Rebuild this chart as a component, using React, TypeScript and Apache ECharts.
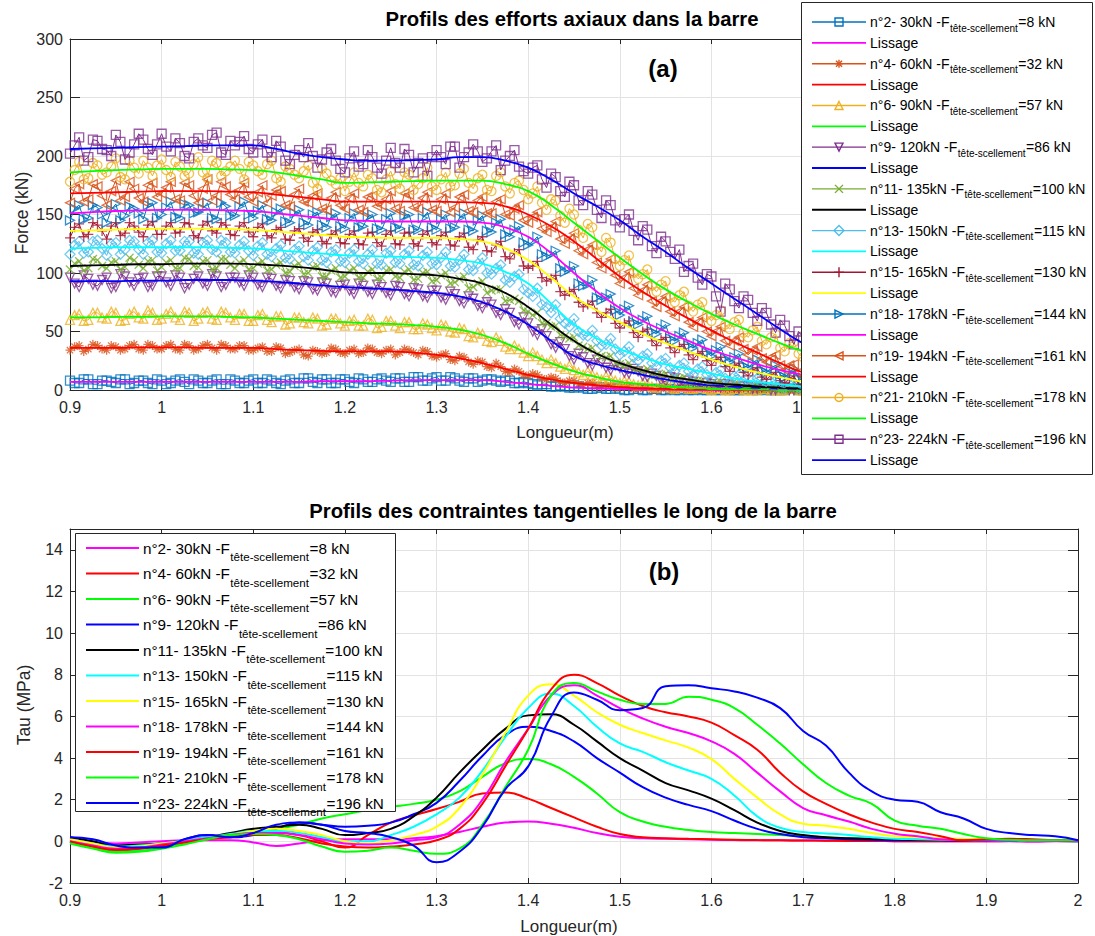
import React, { useEffect, useRef } from 'react';
import * as echarts from 'echarts';

const FONT = "'Liberation Sans', Arial, Helvetica, sans-serif";
const AX = '#262626';
const GRIDC = '#e3e3e3';

// abscissa grids (m)
const xRaw: number[] = Array.from({ length: 111 }, (_, i) => +(0.9 + i * 0.01).toFixed(2));
const xHalf: number[] = Array.from({ length: 110 }, (_, i) => +(0.905 + i * 0.01).toFixed(3));
const xSmooth: number[] = Array.from({ length: 45 }, (_, i) => +(0.9 + i * 0.025).toFixed(3));

// legend texts
const testLabels = ['n°2- 30kN -F', 'n°4- 60kN -F', 'n°6- 90kN -F', 'n°9- 120kN -F', 'n°11- 135kN -F', 'n°13- 150kN -F', 'n°15- 165kN -F', 'n°18- 178kN -F', 'n°19- 194kN -F', 'n°21- 210kN -F', 'n°23- 224kN -F'];
const headForces = ['=8 kN', '=32 kN', '=57 kN', '=86 kN', '=100 kN', '=115 kN', '=130 kN', '=144 kN', '=161 kN', '=178 kN', '=196 kN'];
const SUB = 'tête-scellement';

const dataColors = ['#0072BD', '#D95319', '#EDB120', '#7E2F8E', '#77AC30', '#4DBEEE', '#A2142F', '#0072BD', '#D95319', '#EDB120', '#7E2F8E'];
const lisColors = ['#FF00FF', '#FF0000', '#00FF00', '#0000FF', '#000000', '#00FFFF', '#FFFF00', '#FF00FF', '#FF0000', '#00FF00', '#0000FF'];
const markers = ['square', 'asterisk', 'triUp', 'triDown', 'cross', 'diamond', 'plus', 'triRight', 'triLeft', 'circle', 'square'];

// ---- Force raw data (kN), x = 0.90..2.00 step 0.01 ----
const raw2 = [8,6,9,5,8,6,9,6,8,5, 8,6,9,5,8,6,9,5,8,6, 9,6,8,5,9,6,10,6,9,6, 9,6,9,7,10,7,10,7,11,8, 11,8,10,7,10,8,9,7,8,6, 6,4,5,3,3,2,2,1,2,1, 1,0,1,0,1,0,0,1,0,0, 1,0,0,0,1,0,0,0,0,1, 0,0,0,0,1,0,0,0,0,1, 0,0,0,0,0,1,0,0,0,0, 1,0,0,0,0,0,1,0,0,0,0];
const raw4 = [34,38,35,38,34,37,35,39,34,38, 35,39,34,38,35,39,34,38,35,38, 34,37,33,36,32,35,29,33,32,35, 31,35,32,35,31,35,32,34,30,33, 28,31,25,28,22,24,19,20,15,16, 12,13,9,10,6,8,4,6,3,4, 2,3,1,2,0,2,0,1,0,1, 0,1,0,0,1,0,0,1,0,0, 0,1,0,0,1,0,0,0,1,0, 0,0,0,1,0,0,0,1,0,0, 0,0,1,0,0,0,1,0,0,0,0];
const raw6 = [60,65,60,66,61,66,60,67,61,66, 61,67,60,66,61,67,60,66,60,65, 59,65,58,63,57,62,57,61,56,61, 55,60,55,60,54,59,53,58,52,56, 51,55,49,52,45,48,41,42,35,35, 29,29,23,23,18,17,13,13,9,10, 6,7,4,5,2,4,1,3,1,2, 0,1,0,1,0,0,1,0,0,1, 0,0,0,1,0,0,1,0,0,0, 1,0,0,0,1,0,0,0,1,0, 0,1,0,0,0,1,0,0,0,1,0];
const raw9 = [96,88,95,89,96,88,97,89,96,89, 97,89,96,90,97,89,97,90,96,89, 96,88,95,87,93,86,92,85,91,83, 90,82,89,82,88,81,88,80,86,79, 85,77,82,74,78,70,73,64,66,56, 57,47,46,36,35,26,28,21,23,17, 19,14,16,11,12,7,10,5,7,3, 5,2,4,1,3,1,2,0,2,0, 1,0,1,0,0,1,0,0,1,0, 0,0,1,0,0,1,0,0,0,1, 0,0,0,1,0,0,0,0,1,0,0];
const raw11 = [103,110,104,111,104,110,105,111,104,111, 105,111,104,112,105,111,104,112,104,111, 104,110,103,109,101,108,100,106,97,104, 97,104,96,103,96,103,96,103,95,101, 94,100,92,97,88,93,85,86,77,76, 67,66,57,55,46,45,37,36,29,29, 22,23,17,18,13,14,10,11,7,8, 5,7,4,5,2,4,1,3,0,2, 0,1,0,1,0,0,1,0,0,1, 0,0,1,0,0,0,1,0,0,0, 1,0,0,0,1,0,0,0,1,0,0];
const raw13 = [116,127,118,128,115,126,120,127,116,128, 117,128,119,127,116,128,118,126,117,127, 115,126,114,124,112,123,111,122,109,120, 109,120,108,120,107,119,108,119,106,118, 107,118,105,116,102,113,99,107,92,99, 83,87,71,73,57,61,47,51,38,44, 30,37,25,31,20,27,16,23,13,20, 10,17,7,13,5,10,3,8,2,6, 1,4,0,3,0,2,0,1,0,1, 0,0,1,0,0,1,0,0,1,0, 0,1,0,0,0,1,0,0,0,1,0];
const raw15 = [130,142,133,141,129,143,134,140,131,144, 133,143,135,142,130,144,134,141,132,143, 131,142,130,139,128,138,127,137,125,136, 125,136,124,135,123,136,124,135,123,136, 124,135,123,134,120,131,118,127,112,120, 104,110,93,98,81,86,71,76,62,69, 53,59,45,52,38,45,32,39,26,33, 21,28,16,23,12,19,9,15,6,12, 4,9,2,7,1,5,0,4,0,3, 0,2,0,1,0,1,0,1,0,1, 0,1,0,1,0,0,1,0,0,1,0];
const raw18 = [145,158,147,156,143,159,149,155,146,160, 150,161,147,158,152,160,146,157,149,161, 147,158,145,155,143,154,141,152,139,151, 138,151,140,150,137,151,138,150,137,152, 137,150,139,151,136,149,135,146,131,140, 124,131,114,119,101,106,89,94,77,82, 64,72,56,63,48,56,42,49,36,43, 29,37,24,31,19,26,15,21,11,18, 8,15,5,12,3,10,2,8,1,6, 0,4,0,3,0,2,0,1,0,1, 0,1,0,1,0,1,0,0,0,1,0];
const raw19 = [160,176,163,174,158,179,165,172,161,177, 168,178,162,175,160,180,166,174,163,177, 161,175,166,170,157,172,160,168,154,169, 155,168,152,166,158,170,153,167,155,169, 153,168,156,167,152,165,151,163,149,158, 143,152,135,144,125,134,116,124,104,112, 91,101,81,90,71,80,63,71,54,62, 46,54,38,45,30,37,24,30,17,22, 11,17,8,14,5,11,4,9,2,7, 1,6,0,5,0,4,0,3,0,2, 0,2,0,1,0,1,0,1,0,1,0];
const raw21 = [178,195,181,192,186,198,180,190,196,183, 197,182,191,185,199,181,194,187,196,180, 192,184,196,178,189,181,192,172,185,176, 170,186,174,181,169,187,172,184,176,190, 171,186,175,189,172,184,170,186,168,179, 163,174,154,162,143,150,130,139,118,126, 106,115,95,103,84,93,75,84,67,75, 59,68,52,60,45,54,39,48,33,41, 28,36,23,31,19,27,15,23,12,19, 10,16,8,13,6,11,4,9,3,8, 2,7,1,6,1,5,0,4,1,3,2];
const raw23 = [202,216,199,213,205,218,197,210,214,201, 219,204,211,198,215,207,220,201,209,217, 203,214,199,208,193,205,211,190,203,196, 186,204,193,199,185,207,190,201,194,183, 205,193,208,199,210,195,204,188,200,191, 185,192,173,182,165,175,158,167,147,158, 139,150,128,137,117,127,112,101,108,90, 97,67,86,70,77,59,66,49,55,39, 45,32,38,27,31,22,27,18,22,14, 18,11,15,9,13,7,11,5,9,4, 8,3,6,2,5,1,4,1,3,0,2];

// ---- Force raw data (kN), intermediate samples x = 0.905..1.995 step 0.01 ----
const half2 = [6,9,5,8,7,9,5,8,6,9, 5,8,7,9,6,8,5,9,6,8, 6,9,6,8,6,10,7,9,6,9, 7,10,7,9,8,10,7,11,8,10, 8,11,8,10,7,9,8,8,6,7, 5,5,3,4,2,3,1,2,1,2, 0,1,0,1,0,1,0,0,1,0, 0,1,0,0,0,1,0,0,1,0, 0,0,1,0,0,0,0,1,0,0, 1,0,0,0,0,0,1,0,0,0, 0,0,1,0,0,0,0,0,1,0];
const half4 = [37,33,39,35,38,34,38,35,39,35, 38,35,39,34,38,36,39,35,38,34, 36,33,37,31,34,30,34,31,36,32, 34,31,36,32,34,30,35,32,34,29, 30,26,29,24,25,20,23,16,18,13, 14,10,11,7,8,5,6,3,4,2, 3,1,2,0,1,0,1,0,1,0, 1,0,0,1,0,0,1,0,0,0, 1,0,0,0,1,0,0,0,0,1, 0,0,1,0,0,0,0,1,0,0, 0,1,0,0,0,0,1,0,0,0];
const half6 = [64,59,66,62,67,59,65,62,68,60, 65,62,67,59,66,61,67,62,65,59, 64,60,63,56,62,58,62,55,61,57, 59,55,61,53,59,55,58,52,57,53, 56,50,53,46,49,42,45,37,38,32, 32,26,26,20,21,15,16,11,12,8, 8,5,6,3,5,2,3,1,2,1, 1,0,1,0,0,1,0,0,1,0, 0,1,0,0,0,1,0,0,0,1, 0,0,1,0,0,0,1,0,0,0, 1,0,0,0,1,0,0,0,1,0];
const half9 = [91,98,90,94,87,99,92,95,88,97, 92,98,87,95,91,99,88,96,92,98, 90,96,89,94,88,93,86,92,84,89, 85,91,84,90,83,89,82,87,80,85, 79,84,76,80,72,75,66,69,58,62, 50,52,39,41,29,31,23,26,19,21, 15,18,12,14,8,11,6,8,4,6, 3,5,2,3,1,2,0,2,0,1, 0,1,0,1,0,0,1,0,0,1, 0,0,1,0,0,0,1,0,0,0, 1,0,0,0,1,0,0,0,0,1];
const half11 = [108,102,112,106,109,103,113,107,110,102, 109,104,113,106,110,103,112,107,109,103, 108,102,107,100,106,99,105,97,102,96, 102,96,101,95,102,97,101,94,100,93, 98,91,95,87,91,83,86,76,78,68, 64,57,54,47,44,38,35,30,28,23, 21,17,16,12,13,9,10,7,8,5, 6,3,5,2,3,1,2,0,2,0, 1,0,1,0,0,1,0,0,0,1, 0,0,0,1,0,0,0,1,0,0, 0,1,0,0,0,1,0,0,0,0];
const half13 = [124,117,127,121,125,116,128,120,126,118, 125,119,127,117,126,120,128,118,124,119, 123,116,121,113,120,114,119,111,118,110, 117,110,116,108,117,109,116,107,115,108, 113,106,111,103,108,100,104,94,97,86, 80,73,66,61,54,50,46,42,39,35, 33,28,29,23,25,19,21,16,18,13, 15,10,12,7,9,5,7,3,5,2, 3,1,2,0,1,0,1,0,0,1, 0,0,1,0,0,0,1,0,0,0, 0,0,1,0,0,0,0,1,0,0];
const half15 = [139,131,143,136,140,132,143,135,141,133, 140,134,143,132,141,136,143,133,140,135, 139,132,137,129,136,130,135,127,133,126, 133,125,134,126,133,125,134,125,133,126, 132,124,131,122,128,119,124,114,117,106, 106,96,95,84,84,75,73,66,66,57, 57,49,50,42,43,36,37,30,31,25, 26,20,21,15,17,11,13,8,10,5, 7,3,5,1,4,1,2,0,2,0, 1,0,1,0,1,0,0,1,0,0, 1,0,0,0,1,0,0,0,0,1];
const half18 = [155,146,158,150,154,145,157,151,158,147, 156,148,159,151,155,147,160,149,157,150, 153,146,152,144,151,143,150,141,148,140, 147,139,148,138,146,139,149,137,147,139, 146,138,147,137,145,136,143,133,137,126, 127,116,116,104,103,91,90,79,79,68, 69,58,60,50,53,44,46,38,40,32, 34,27,28,21,23,17,19,13,15,10, 12,7,9,4,7,2,5,1,4,0, 2,0,2,0,1,0,1,0,0,1, 0,0,1,0,0,0,1,0,0,0];
const half19 = [172,161,176,166,170,162,178,164,175,165, 173,163,177,166,172,162,178,167,171,165, 169,160,171,158,167,161,166,155,164,158, 164,154,165,157,163,155,168,156,164,154, 163,152,165,153,162,151,161,150,155,145, 148,138,139,129,129,119,120,109,108,98, 96,87,85,76,76,67,67,58,58,50, 50,42,42,35,34,27,28,21,21,15, 14,9,11,6,8,4,7,3,5,1, 4,0,3,0,2,0,2,0,1,0, 1,0,1,0,1,0,0,1,0,0];
const half21 = [188,180,194,184,191,182,196,185,190,192, 188,195,183,193,186,196,183,191,189,195, 187,193,181,191,184,187,177,189,179,181, 178,177,184,171,180,176,186,171,181,174, 180,174,185,177,181,171,183,174,177,171, 168,160,163,149,155,137,142,124,130,112, 111,100,99,89,90,79,81,72,73,64, 64,56,58,49,51,42,45,36,40,31, 34,26,29,21,25,17,21,13,17,11, 14,9,12,7,10,5,8,3,7,2, 6,1,5,1,4,0,3,1,2,1];
const half23 = [209,196,214,206,200,212,203,219,206,210, 208,215,200,212,209,218,203,213,212,206, 210,203,213,196,201,199,200,197,206,189, 198,191,205,190,196,194,206,186,198,199, 199,208,190,203,204,198,209,196,205,187, 190,180,185,170,178,162,170,154,162,145, 146,136,140,123,131,118,120,106,96,99, 80,91,76,80,66,70,56,60,46,50, 38,41,33,34,26,29,22,24,18,20, 14,17,11,14,9,11,7,9,6,7, 5,6,3,5,2,4,1,3,2,1];

// ---- Smoothed force ("Lissage", kN), x = 0.900..2.000 step 0.025 ----
const lis2 = [7,7,7,7,7,7,7,7,7,7,7,7.5,7.5,7.5,8,8.5,8.5,8.5,8.5,7,5,3.5,2,1.5,1,0.5,0.5,0,0,0,0,0,0,0,0,0,0,0,0,0,0,0,0,0,0];
const lis4 = [36,36,36,36.5,36.5,36.5,36,36,36,35,34,33.5,33,33,33,32,30,27,23,18,13,9,6,4,2.5,1.5,1,0.5,0.5,0,0,0,0,0,0,0,0,0,0,0,0,0,0,0,0];
const lis6 = [62,62,62.5,62.5,63,63,63,62.5,62,61,60,59,58,57,56.5,55.5,54,51.5,47,40,31,23,16,11,7,5,3,2,1,0.5,0.5,0,0,0,0,0,0,0,0,0,0,0,0,0,0];
const lis9 = [93,93,93,93.5,93.5,94,94,94,93.5,92.5,91,89.5,88,87,86,84.5,83,80,75,67,56,42,29,22,17,13,9,6,4,3,2,1.5,1,0.5,0.5,0,0,0,0,0,0,0,0,0,0];
const lis11 = [106,106.5,107,107.5,107.5,108,108,108,107.5,106.5,105,103,100.5,100,100,99,98,95,91,83,71,56,42,31,23,17,12,9,6,4.5,3,2,1,0.5,0.5,0,0,0,0,0,0,0,0,0,0];
const lis13 = [121,121.5,122,122,122,122,122,121.5,121,119.5,118,116.5,115,114.5,114,113.5,113,111,108,101,91,74,56,44,35,28,22,18,14,10,7,5,3,2,1,0.5,0.5,0,0,0,0,0,0,0,0];
const lis15 = [136,136.5,137,137.5,138,138,138,137.5,137,135.5,134,132.5,131,130.5,130,130,130,129,127,121,111,96,80,68,58,48,40,33,26,20,15,11,7,5,3,2,1,0.5,0.5,0,0,0,0,0,0];
const lis18 = [151,152,153,153.5,154,154,154,153.5,153,151,149,147,145,144.5,144,144,144,144,143,139,131,117,100,84,70,59,50,42,34,28,22,17,13,10,7,5,3,2,1.5,1,0.5,0.5,0.5,0,0];
const lis19 = [168,168.5,169,169.5,170,170,170,169.5,169,167,165,163,161,161,161,161,161,160.5,160,157,150,140,127,112,97,84,72,61,51,41,32,23,15,11,8,6,4,3,2,1.5,1,1,0.5,0.5,0.5];
const lis21 = [186,187,188,188.5,189,189,189,188.5,188,186,183,180,177,177.5,178,178.5,179,179,179,176,170,158,143,128,113,99,86,75,65,56,48,40,33,27,22,17,13,10,8,6,5,4,3,2.5,2];
const lis23 = [206,206.5,207,207.5,208,208.5,209,209,209,206,202,199,197,196,196,196.5,197,199,199,196,190,180,168,157,145,131,118,104,91,78,65,52,40,32,25,20,15,12,9,7,5,4,3,2.5,2];

// ---- Shear stress Tau (MPa), x = 0.900..2.000 step 0.025 ----
const tau2 = [0,-0.05,-0.1,-0.05,0,0.05,0.05,0.05,-0.05,-0.22,-0.1,0.05,0.1,0.1,0.1,0.15,0.25,0.45,0.7,0.9,0.95,0.85,0.65,0.4,0.22,0.15,0.12,0.1,0.08,0.06,0.05,0.05,0.04,0.03,0.02,0.02,0.01,0,0,0,0,0,-0.02,0,0.02];
const tau4 = [0,-0.3,-0.45,-0.35,-0.2,0,0.15,0.3,0.42,0.45,0.3,0,-0.3,0.3,0.9,1.25,1.55,1.9,2.3,2.35,2.05,1.6,1.15,0.7,0.35,0.2,0.15,0.12,0.1,0.08,0.06,0.05,0.04,0.03,0.02,0.02,0.01,0,0,0,0,0.02,0.03,0.02,0.01];
const tau6 = [0,-0.3,-0.5,-0.45,-0.3,-0.1,0.1,0.3,0.5,0.6,0.8,1.1,1.3,1.5,1.65,1.8,2.0,2.4,3.1,3.75,3.95,3.7,3.1,2.3,1.4,0.95,0.7,0.55,0.45,0.4,0.35,0.3,0.25,0.2,0.15,0.12,0.1,0.08,0.06,0.05,0.04,0.03,0.02,0.02,0.01];
const tau9 = [0.1,-0.1,-0.25,-0.2,-0.25,0.1,0.3,0.2,0.3,0.6,0.9,0.8,0.7,0.75,0.9,1.3,1.85,2.9,4.1,5.1,5.5,5.3,4.8,4.0,3.3,2.6,2.1,1.75,1.45,1.0,0.6,0.35,0.2,0.15,0.1,0.08,0.05,0.05,0.05,0.04,0.03,0.02,0.02,0.02,0.01];
const tau11 = [0.2,0,-0.2,-0.15,-0.1,0.05,0.2,0.4,0.6,0.7,0.8,0.6,0.3,0.4,0.6,1.2,2.1,3.3,4.4,5.4,6.05,6.1,5.6,4.8,4.0,3.4,2.8,2.45,2.05,1.5,0.9,0.5,0.3,0.2,0.15,0.12,0.1,0.08,0.06,0.05,0.05,0.05,0.04,0.03,0.02];
const tau13 = [0.05,-0.1,-0.25,-0.2,-0.1,0.05,0.2,0.35,0.5,0.5,0.4,0.2,0,0,0.3,0.7,1.3,2.1,3.4,5.0,6.4,7.1,6.5,5.5,4.7,4.3,3.8,3.4,3.0,2.2,1.2,0.65,0.45,0.38,0.3,0.2,0.13,0.1,0.08,0.06,0.05,0.04,0.03,0.03,0.02];
const tau15 = [0.1,-0.1,-0.3,-0.25,-0.1,0,0.1,0.3,0.5,0.6,0.5,0.3,0,-0.1,0.05,0.3,0.7,1.6,3.2,5.2,7.0,7.55,7.0,6.2,5.6,5.2,4.85,4.5,3.95,3.0,2.1,1.3,0.85,0.75,0.6,0.4,0.25,0.2,0.15,0.12,0.1,0.08,0.05,0.05,0.05];
const tau18 = [0,-0.2,-0.35,-0.3,-0.15,0,0.15,0.3,0.4,0.4,0.3,0.1,-0.1,-0.15,-0.1,0.05,0.2,0.8,2.0,3.8,5.4,7.0,7.5,7.0,6.4,5.9,5.5,5.2,4.8,4.2,3.3,2.4,1.6,1.25,0.95,0.6,0.37,0.25,0.1,0.05,0.05,0.05,0.03,0.02,0.02];
const tau19 = [0,-0.25,-0.4,-0.35,-0.2,-0.05,0.1,0.2,0.3,0.3,0.15,-0.1,-0.25,-0.3,-0.25,-0.15,0.05,0.6,1.8,3.6,5.4,7.3,8.0,7.6,7.0,6.5,6.2,6.0,5.7,5.1,4.4,3.3,2.4,1.8,1.3,0.9,0.6,0.45,0.25,0.05,0.1,0.12,0.1,0.06,0.05];
const tau21 = [-0.1,-0.35,-0.55,-0.5,-0.35,-0.15,0.1,0.3,0.35,0.3,0.1,-0.25,-0.5,-0.45,-0.3,-0.45,-0.6,-0.35,0.8,2.6,4.4,7.0,7.6,7.2,6.8,6.6,6.6,6.95,6.8,6.4,5.6,4.7,3.7,2.8,2.2,1.8,1.0,0.75,0.6,0.35,0.15,0.08,0.05,0.05,0.05];
const tau23 = [0.2,0.1,-0.2,-0.3,-0.3,0.1,0.3,0.2,0.4,0.8,0.9,0.8,0.5,0.4,0.2,-0.2,-1.0,-0.5,0.7,2.5,3.6,6.0,7.15,6.8,6.3,6.4,7.45,7.5,7.35,7.2,6.9,6.4,5.3,4.6,3.3,2.4,2.0,1.9,1.4,1.1,0.6,0.4,0.3,0.25,0.05];

const rawAll = [raw2, raw4, raw6, raw9, raw11, raw13, raw15, raw18, raw19, raw21, raw23];
const halfAll = [half2, half4, half6, half9, half11, half13, half15, half18, half19, half21, half23];
const lisAll = [lis2, lis4, lis6, lis9, lis11, lis13, lis15, lis18, lis19, lis21, lis23];
const tauAll = [tau2, tau4, tau6, tau9, tau11, tau13, tau15, tau18, tau19, tau21, tau23];

const symbolOf: Record<string, string> = {
  square: 'rect',
  circle: 'circle',
  triUp: 'triangle',
  diamond: 'diamond',
  triDown: 'path://M0,0L10,0L5,10Z',
  triRight: 'path://M0,0L10,5L0,10Z',
  triLeft: 'path://M10,0L0,5L10,10Z',
  cross: 'path://M0,0L10,10M10,0L0,10',
  plus: 'path://M5,0L5,10M0,5L10,5',
  asterisk: 'path://M5,0L5,10M0,5L10,5M1.5,1.5L8.5,8.5M8.5,1.5L1.5,8.5',
};
const sizeOf: Record<string, number> = {
  square: 9, circle: 9, triUp: 9, diamond: 10, triDown: 9, triRight: 9, triLeft: 9, cross: 8, plus: 10, asterisk: 9,
};

function legendMarker(kind: string, cx: number, cy: number, color: string, z: number): any[] {
  const h = 4;
  const st = { fill: 'none', stroke: color, lineWidth: 1.4 };
  const poly = (pts: number[][]) => [{ type: 'polygon', z, silent: true, shape: { points: pts }, style: st }];
  const ln = (x1: number, y1: number, x2: number, y2: number) => ({ type: 'line', z, silent: true, shape: { x1, y1, x2, y2 }, style: { stroke: color, lineWidth: 1.4 } });
  switch (kind) {
    case 'square': return [{ type: 'rect', z, silent: true, shape: { x: cx - h, y: cy - h, width: 2 * h, height: 2 * h }, style: st }];
    case 'circle': return [{ type: 'circle', z, silent: true, shape: { cx, cy, r: h }, style: st }];
    case 'triUp': return poly([[cx, cy - h], [cx + h, cy + h], [cx - h, cy + h]]);
    case 'triDown': return poly([[cx - h, cy - h], [cx + h, cy - h], [cx, cy + h]]);
    case 'triRight': return poly([[cx - h, cy - h], [cx + h, cy], [cx - h, cy + h]]);
    case 'triLeft': return poly([[cx + h, cy - h], [cx - h, cy], [cx + h, cy + h]]);
    case 'diamond': return poly([[cx, cy - h - 1], [cx + h + 1, cy], [cx, cy + h + 1], [cx - h - 1, cy]]);
    case 'cross': return [ln(cx - h, cy - h, cx + h, cy + h), ln(cx + h, cy - h, cx - h, cy + h)];
    case 'plus': return [ln(cx, cy - h - 1, cx, cy + h + 1), ln(cx - h - 1, cy, cx + h + 1, cy)];
    case 'asterisk': return [ln(cx, cy - h, cx, cy + h), ln(cx - h, cy, cx + h, cy), ln(cx - 3, cy - 3, cx + 3, cy + 3), ln(cx + 3, cy - 3, cx - 3, cy + 3)];
  }
  return [];
}

let measureCtx: CanvasRenderingContext2D | null = null;
function textWidth(t: string, size: number): number {
  if (!measureCtx) measureCtx = document.createElement('canvas').getContext('2d');
  measureCtx!.font = `${size}px ${FONT}`;
  return measureCtx!.measureText(t).width;
}

function txt(text: string, x: number, y: number, size: number, opts: any = {}): any {
  return {
    type: 'text', z: opts.z ?? 110, silent: true, x, y, rotation: opts.rotation ?? 0,
    style: {
      text, fontSize: size, fontFamily: FONT, fontWeight: opts.bold ? 'bold' : 'normal',
      fill: opts.color ?? '#000', align: opts.align ?? 'left', verticalAlign: 'middle',
    },
  };
}

function buildGraphics(): any[] {
  const els: any[] = [];
  // titles and axis names
  els.push(txt('Profils des efforts axiaux dans la barre', 572, 19, 20.3, { bold: true, align: 'center', z: 50 }));
  els.push(txt('Profils des contraintes tangentielles le long de la barre', 573, 511, 20.3, { bold: true, align: 'center', z: 50 }));
  els.push(txt('(a)', 663, 68, 24, { bold: true, align: 'center', z: 50 }));
  els.push(txt('(b)', 664, 571, 24, { bold: true, align: 'center', z: 50 }));
  els.push(txt('Force (kN)', 22, 213, 17.5, { align: 'center', rotation: Math.PI / 2, color: AX, z: 50 }));
  els.push(txt('Tau (MPa)', 24, 705, 17.5, { align: 'center', rotation: Math.PI / 2, color: AX, z: 50 }));
  els.push(txt('Longueur(m)', 565, 432, 17, { align: 'center', color: AX, z: 50 }));
  els.push(txt('Longueur(m)', 569, 926, 17, { align: 'center', color: AX, z: 50 }));

  // top legend
  const zL = 100;
  els.push({ type: 'rect', z: zL, silent: true, shape: { x: 801.5, y: 2.5, width: 291, height: 472 }, style: { fill: '#fff', stroke: AX, lineWidth: 1 } });
  for (let i = 0; i < 22; i++) {
    const k = Math.floor(i / 2);
    const y = 22 + i * 20.86;
    if (i % 2 === 0) {
      els.push({ type: 'line', z: zL + 1, silent: true, shape: { x1: 812, y1: y, x2: 866, y2: y }, style: { stroke: dataColors[k], lineWidth: 1.4 } });
      els.push(...legendMarker(markers[k], 839, y, dataColors[k], zL + 2));
      const w1 = textWidth(testLabels[k], 14);
      els.push(txt(testLabels[k], 870, y, 14, { z: zL + 3 }));
      els.push(txt(SUB, 870 + w1 + 0.5, y + 6, 10, { z: zL + 3 }));
      const w2 = textWidth(SUB, 10);
      els.push(txt(headForces[k], 870 + w1 + w2 + 1, y, 14, { z: zL + 3 }));
    } else {
      els.push({ type: 'line', z: zL + 1, silent: true, shape: { x1: 812, y1: y, x2: 866, y2: y }, style: { stroke: lisColors[k], lineWidth: 1.8 } });
      els.push(txt('Lissage', 870, y, 14, { z: zL + 3 }));
    }
  }

  // bottom legend
  els.push({ type: 'rect', z: zL, silent: true, shape: { x: 75.5, y: 533.5, width: 320, height: 278 }, style: { fill: '#fff', stroke: AX, lineWidth: 1 } });
  for (let k = 0; k < 11; k++) {
    const y = 548 + k * 25.5;
    els.push({ type: 'line', z: zL + 1, silent: true, shape: { x1: 86, y1: y, x2: 139, y2: y }, style: { stroke: lisColors[k], lineWidth: 2 } });
    const w1 = textWidth(testLabels[k], 15.3);
    els.push(txt(testLabels[k], 143, y, 15.3, { z: zL + 3 }));
    els.push(txt(SUB, 143 + w1 + 0.5, y + 8.5, 11.6, { z: zL + 3 }));
    const w2 = textWidth(SUB, 11.6);
    els.push(txt(headForces[k], 143 + w1 + w2 + 1, y, 15.3, { z: zL + 3 }));
  }
  return els;
}

function mkX(gridIndex: number, position: string, main: boolean, hideFrom: number): any {
  return {
    type: 'value', gridIndex, position, min: 0.9, max: 2, interval: 0.1,
    axisLine: { show: true, onZero: false, lineStyle: { color: AX, width: 1 } },
    axisTick: { show: true, inside: true, length: 5, lineStyle: { color: AX, width: 1 } },
    axisLabel: {
      show: main, color: AX, fontSize: 16, fontFamily: FONT, margin: 9,
      // labels under the opaque legend box are not drawn
      formatter: (v: number) => (v > hideFrom ? '' : String(+v.toFixed(1))),
    },
    splitLine: { show: main, lineStyle: { color: GRIDC, width: 1 } },
  };
}
function mkY(gridIndex: number, position: string, main: boolean, min: number, max: number, interval: number): any {
  return {
    type: 'value', gridIndex, position, min, max, interval,
    axisLine: { show: true, onZero: false, lineStyle: { color: AX, width: 1 } },
    axisTick: { show: true, inside: true, length: 10, lineStyle: { color: AX, width: 1 } },
    axisLabel: { show: main, color: AX, fontSize: 16, fontFamily: FONT, margin: 7, showMaxLabel: max % interval === 0 },
    splitLine: { show: main, lineStyle: { color: GRIDC, width: 1 } },
  };
}

function buildOption(): any {
  const series: any[] = [];
  for (let k = 0; k < 11; k++) {
    const pts: number[][] = [];
    for (let i = 0; i < xRaw.length; i++) {
      pts.push([xRaw[i], rawAll[k][i]]);
      if (i < xHalf.length) pts.push([xHalf[i], halfAll[k][i]]);
    }
    series.push({
      type: 'line', xAxisIndex: 0, yAxisIndex: 0, data: pts, symbol: 'none', showSymbol: false, silent: true,
      lineStyle: { color: dataColors[k], width: 1 },
    });
    series.push({
      type: 'scatter', xAxisIndex: 0, yAxisIndex: 0, data: pts, silent: true,
      symbol: symbolOf[markers[k]], symbolSize: sizeOf[markers[k]],
      itemStyle: { color: 'transparent', borderColor: dataColors[k], borderWidth: 1.3 },
    });
    series.push({
      type: 'line', xAxisIndex: 0, yAxisIndex: 0, data: xSmooth.map((x, i) => [x, lisAll[k][i]]),
      smooth: 0.5, symbol: 'none', showSymbol: false, silent: true,
      lineStyle: { color: lisColors[k], width: 1.8 },
    });
  }
  for (let k = 0; k < 11; k++) {
    series.push({
      type: 'line', xAxisIndex: 2, yAxisIndex: 2, data: xSmooth.map((x, i) => [x, tauAll[k][i]]),
      smooth: 0.5, symbol: 'none', showSymbol: false, silent: true,
      lineStyle: { color: lisColors[k], width: 2 },
    });
  }
  return {
    animation: false,
    backgroundColor: '#fff',
    textStyle: { fontFamily: FONT },
    grid: [
      { left: 70, top: 39, width: 1008, height: 351, outerBoundsMode: 'none', containLabel: false },
      { left: 70, top: 529, width: 1008, height: 354, outerBoundsMode: 'none', containLabel: false },
    ],
    xAxis: [mkX(0, 'bottom', true, 1.75), mkX(0, 'top', false, 9), mkX(1, 'bottom', true, 9), mkX(1, 'top', false, 9)],
    yAxis: [mkY(0, 'left', true, 0, 300, 50), mkY(0, 'right', false, 0, 300, 50), mkY(1, 'left', true, -2, 15, 2), mkY(1, 'right', false, -2, 15, 2)],
    series,
    graphic: { elements: buildGraphics() },
  };
}

export default function App() {
  const ref = useRef<HTMLDivElement>(null);
  useEffect(() => {
    document.body.style.margin = '0';
    const chart = echarts.init(ref.current!, null, { renderer: 'svg' });
    chart.setOption(buildOption());
    return () => chart.dispose();
  }, []);
  return <div ref={ref} style={{ position: 'absolute', left: 0, top: 0, width: 1095, height: 936 }} />;
}
